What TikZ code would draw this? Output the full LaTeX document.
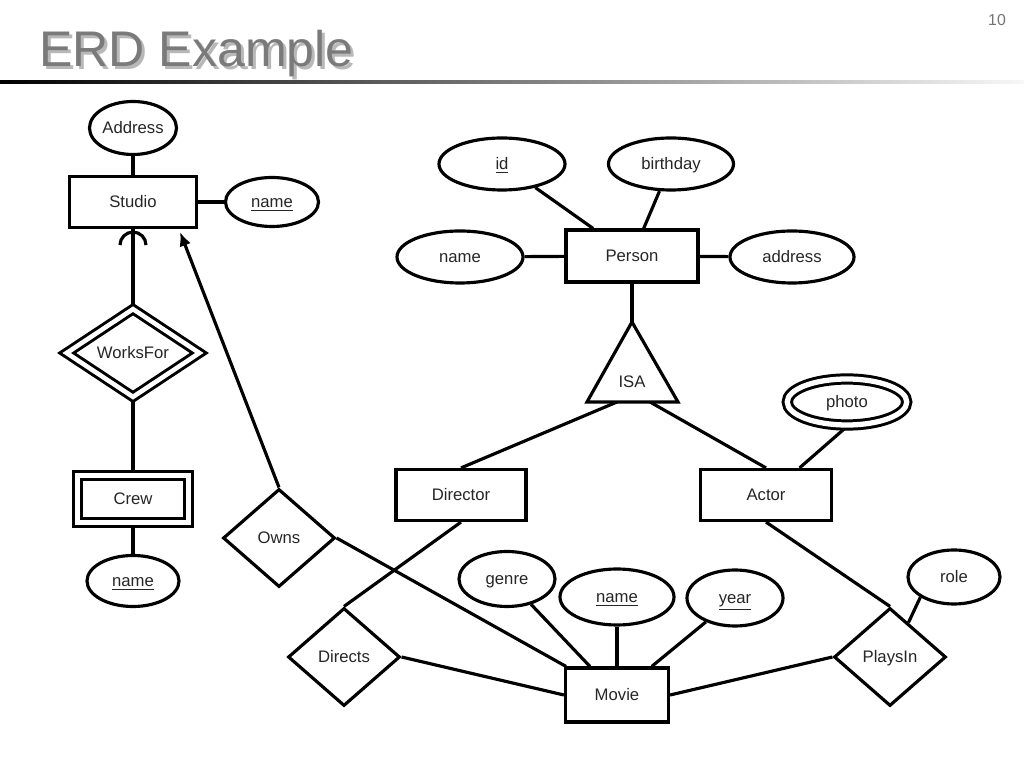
\documentclass[tikz,border=0pt]{standalone}
\usepackage{fontspec}
\setmainfont{Liberation Sans}
\usetikzlibrary{shapes.geometric,arrows.meta,calc,backgrounds}

\begin{document}
\begin{tikzpicture}[x=0.2mm, y=-0.2mm,
    erd/.style={draw, line width=1.8pt, fill=white, inner sep=0pt,
      text=black!85, font=\fontsize{9.5}{11}\selectfont,
      text height=7pt, text depth=0.3pt},
    entity/.style={erd, rectangle, minimum width=26mm, minimum height=10.2mm},
    weakentity/.style={entity, double, double distance=2.6pt, line width=1.7pt},
    attr/.style={erd, ellipse, minimum width=25mm, minimum height=10.4mm},
    multiattr/.style={attr, double, double distance=3pt, line width=1.7pt},
    rel/.style={erd, diamond, minimum width=22.4mm, minimum height=19.6mm},
    weakrel/.style={rel, double, double distance=2.6pt, line width=1.7pt},
    link/.style={line width=1.8pt}]
  \useasboundingbox (0,0) rectangle (1024,768);

  % heading
  \node[anchor=base west, text=black!28, font=\fontsize{28.5}{32}\selectfont]
    (titleshadow) at (36,70) {ERD Example};
  \node[anchor=base west, text=black!52, font=\fontsize{28.5}{32}\selectfont]
    (title) at (33,67) {ERD Example};
  \node[text=black!55, font=\fontsize{9}{10}\selectfont] (pagenum) at (997,20) {10};
  \shade[left color=black, right color=black!3] (0,81) rectangle (1024,83.5);

  % studio side
  \node[entity, minimum width=25.4mm] (studio) at (133,202) {Studio};
  \node[attr, minimum width=17.4mm, minimum height=10.6mm] (studioaddr) at (133,128) {Address};
  \node[attr, minimum width=18.6mm, minimum height=9.8mm] (studioname) at (272,202) {\underline{name}};
  \node[weakrel, minimum width=26.8mm, minimum height=17.8mm] (worksfor) at (133,353) {WorksFor};
  \node[weakentity, minimum width=22.2mm, minimum height=9.4mm] (crew) at (133,499) {Crew};
  \node[attr, minimum width=18.4mm, minimum height=10.2mm] (crewname) at (133,581) {\underline{name}};
  \node[rel] (owns) at (279,538) {Owns};

  % person and isa
  \node[entity, minimum width=26.4mm, minimum height=10.4mm] (person) at (632,256) {Person};
  \node[attr, minimum width=25.2mm] (personid) at (502,164) {\underline{id}};
  \node[attr] (birthday) at (671,164) {birthday};
  \node[attr, minimum width=25.2mm] (personname) at (460,257) {name};
  \node[attr, minimum width=24.8mm] (address) at (792,257) {address};
  \coordinate (isatop) at (632,322);
  \coordinate (isaleft) at (617,402);
  \coordinate (isaright) at (650,402);
  \draw[link, fill=white] (isatop) -- (587,402) -- (678,402) -- cycle;
  \node[text=black!85, font=\fontsize{9.5}{11}\selectfont] (isa) at (632,382) {ISA};
  \node[entity] (director) at (461,495) {Director};
  \node[entity, minimum width=26.2mm] (actor) at (766,495) {Actor};
  \node[multiattr, minimum width=23.9mm, minimum height=9.2mm] (photo) at (847,402) {photo};

  % movie side
  \node[entity, minimum width=20.6mm, minimum height=10.8mm] (movie) at (617,695) {Movie};
  \node[attr, minimum width=19.2mm, minimum height=11mm] (genre) at (507,579) {genre};
  \node[attr, minimum width=22.8mm, minimum height=11.2mm] (moviename) at (617,597) {\underline{name}};
  \node[attr, minimum width=19.2mm, minimum height=11.2mm] (year) at (735,598) {\underline{year}};
  \node[rel] (directs) at (344,657) {Directs};
  \node[rel] (playsin) at (890,657) {PlaysIn};
  \node[attr, minimum width=18.4mm, minimum height=10.8mm] (role) at (954,577) {role};

  % connectors
  \begin{scope}[on background layer]
    \draw[link] (studioaddr) -- (studio);
    \draw[link] (studio) -- (studioname);
    \draw[link] (worksfor.north) -- (studio.south);
    \draw[link] ([xshift=-2.6mm,yshift=-3.2mm]studio.south)
      arc[start angle=180, end angle=0, radius=2.6mm];
    \draw[link] (worksfor.south) -- (crew.north);
    \draw[link] (crew) -- (crewname);
    \draw[link, -{Latex[length=2.8mm, width=2.4mm]}] (owns.north)
      -- ([xshift=-3.6mm, yshift=-0.6mm]studio.south east);
    \draw[link] (owns.east) -- (movie);
    \draw[link] (personid) -- (person);
    \draw[link] (birthday) -- (person);
    \draw[link] (personname) -- (person);
    \draw[link] (person) -- (address);
    \draw[link] (person.south) -- (isatop);
    \draw[link] (isaleft) -- (director.north);
    \draw[link] (isaright) -- (actor.north);
    \draw[link] (photo.south) -- ($(actor.north)!0.5!(actor.north east)$);
    \draw[link] (director.south) -- (directs.north);
    \draw[link] (directs.east) -- (movie.west);
    \draw[link] (genre) -- (movie);
    \draw[link] (moviename) -- (movie);
    \draw[link] (year) -- (movie);
    \draw[link] (actor.south) -- (playsin.north);
    \draw[link] (playsin.west) -- (movie.east);
    \draw[link] (role.south west) -- ($(playsin.north)!0.32!(playsin.east)$);
  \end{scope}
\end{tikzpicture}
\end{document}
